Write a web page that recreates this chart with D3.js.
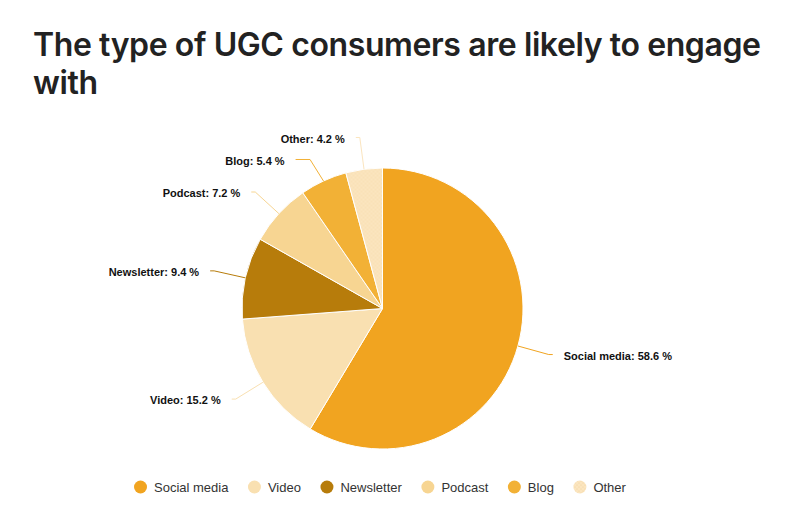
<!DOCTYPE html>
<html><head><meta charset="utf-8">
<script src="https://cdn.jsdelivr.net/npm/d3@7"></script>
<style>
html,body{margin:0;padding:0;background:#fff;}
svg{display:block;}
</style></head>
<body>
<svg id="chart" width="796" height="525"></svg>
<script>
const titleLines = ["The type of UGC consumers are likely to engage", "with"];
const categories = ["Social media", "Video", "Newsletter", "Podcast", "Blog", "Other"];
const values = [58.6, 15.2, 9.4, 7.2, 5.4, 4.2];
const colors = ["#F1A420", "#F9E0B1", "#B77C0B", "#F7D592", "#F2B136", "#FBE5BF"];

const svg = d3.select("#chart");
const W = 796, H = 525;
const cx = 382.5, cy = 308.5, R = 140.5, dist = 32;

// pattern for "Other"
const defs = svg.append("defs");
const pat = defs.append("pattern").attr("id", "dots").attr("patternUnits", "userSpaceOnUse")
  .attr("width", 4).attr("height", 4);
pat.append("rect").attr("width", 4).attr("height", 4).attr("fill", colors[5]);
pat.append("circle").attr("cx", 1).attr("cy", 1).attr("r", 0.6).attr("fill", "#F3D39A");
pat.append("circle").attr("cx", 3).attr("cy", 3).attr("r", 0.6).attr("fill", "#F3D39A");
const fillFor = i => i === 5 ? "url(#dots)" : colors[i];

// title
const title = svg.append("text").attr("x", 33).attr("y", 56)
  .attr("font-family", "Inter, 'Noto Sans', sans-serif").attr("font-weight", 600)
  .attr("font-size", 32).attr("fill", "#222").attr("letter-spacing", -0.4);
titleLines.forEach((l, i) => title.append("tspan").attr("x", 33).attr("y", 56 + i * 38).text(l));

const data = categories.map((c, i) => ({ name: c, value: values[i], i }));
const pie = d3.pie().sort(null).value(d => d.value);
const arcs = pie(data);
const arc = d3.arc().innerRadius(0).outerRadius(R);

const g = svg.append("g").attr("transform", `translate(${cx},${cy})`);
g.selectAll("path.slice").data(arcs).join("path").attr("class", "slice")
  .attr("d", arc).attr("fill", d => fillFor(d.data.i))
  .attr("stroke", "#fff").attr("stroke-width", 1).attr("stroke-linejoin", "round");

// labels
const RL = R + dist;
const labs = arcs.map(a => {
  const m = (a.startAngle + a.endAngle) / 2;
  return {
    a, m, right: Math.sin(m) >= 0,
    ex: R * Math.sin(m), ey: -R * Math.cos(m),
    bx: RL * Math.sin(m), by: -RL * Math.cos(m)
  };
});
// push-down collision per side
["true", "false"].forEach(side => {
  const s = labs.filter(l => String(l.right) === side).sort((p, q) => p.by - q.by);
  for (let k = 1; k < s.length; k++) {
    if (s[k].by - s[k - 1].by < 22) s[k].by = s[k - 1].by + 22;
  }
});
labs.forEach(l => {
  const dy = Math.max(-RL, Math.min(RL, l.by));
  const cxr = Math.sqrt(RL * RL - dy * dy);
  let lx = l.right ? cxr : -cxr;
  if (l.right) lx = Math.max(lx, l.bx + 4); else lx = Math.min(lx, l.bx - 4);
  l.lx = lx;
});
g.selectAll("path.conn").data(labs).join("path").attr("class", "conn")
  .attr("d", l => `M${l.ex},${l.ey}L${l.bx},${l.by}L${l.lx},${l.by}`)
  .attr("fill", "none").attr("stroke", l => colors[l.a.data.i]).attr("stroke-width", 1);
g.selectAll("text.lbl").data(labs).join("text").attr("class", "lbl")
  .attr("x", l => l.right ? l.lx + 11 : l.lx - 11).attr("y", l => l.by + 1.5)
  .attr("dy", "0.35em").attr("text-anchor", l => l.right ? "start" : "end")
  .attr("font-family", "'Liberation Sans', Arial, sans-serif").attr("font-weight", "bold")
  .attr("font-size", 11).attr("fill", "#111")
  .text(l => `${l.a.data.name}: ${l.a.data.value} %`);

// legend
const leg = svg.append("g");
let x = 140.5;
categories.forEach((c, i) => {
  leg.append("circle").attr("cx", x).attr("cy", 487).attr("r", 6.5).attr("fill", fillFor(i));
  const t = leg.append("text").attr("x", x + 13.5).attr("y", 487).attr("dy", "0.35em")
    .attr("font-family", "'Liberation Sans', Arial, sans-serif").attr("font-size", 13)
    .attr("fill", "#333").text(c);
  x = x + 13.5 + t.node().getComputedTextLength() + 26;
});
</script>
</body></html>
